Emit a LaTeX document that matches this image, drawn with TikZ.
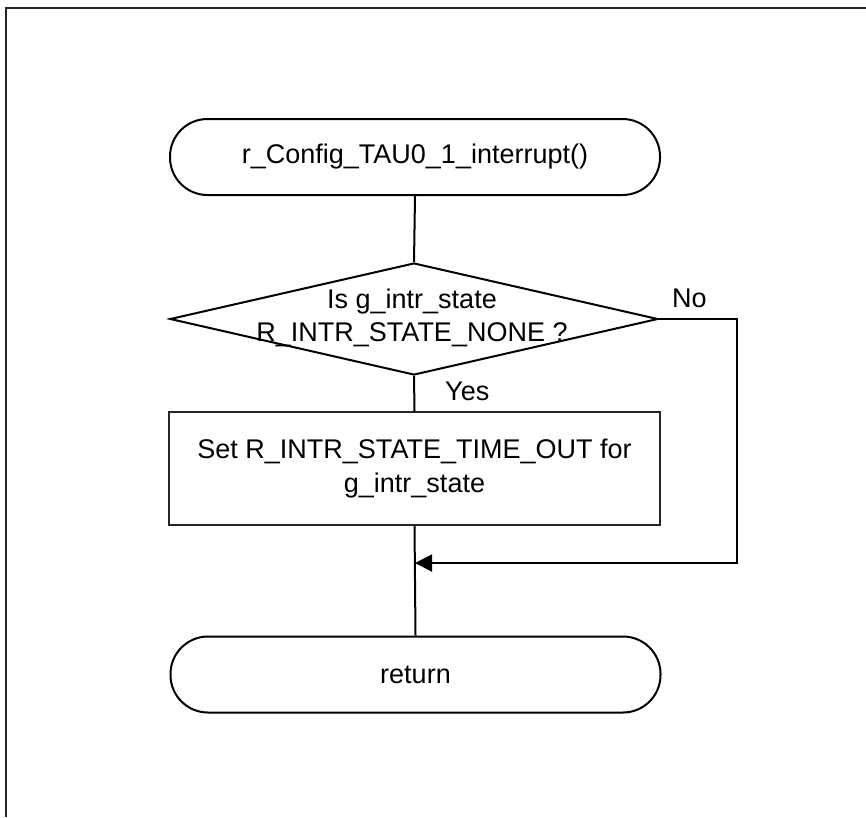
\documentclass[tikz,border=0pt]{standalone}
\usepackage{fontspec}
\setmainfont{Liberation Sans}
\usetikzlibrary{shapes.geometric,arrows.meta}
\begin{document}
\begin{tikzpicture}[x=1pt,y=-1pt,
  every node/.style={font=\fontsize{27}{33.5}\selectfont},
  terminal/.style={draw,line width=2pt,rectangle,rounded corners=37.5pt,minimum width=490pt,minimum height=76pt,inner sep=0pt},
  decision/.style={draw,line width=2pt,diamond,minimum width=488pt,minimum height=112pt,inner sep=0pt},
  process/.style={draw=black!85,line width=1.3pt,rectangle,minimum width=491pt,minimum height=113pt,inner sep=0pt,align=center},
  flow/.style={line width=2pt},
  flowarrow/.style={line width=2pt,-{Triangle[length=17pt,width=17pt]}},
  lbl/.style={inner sep=0pt,anchor=base west}]
\useasboundingbox (0,0) rectangle (866,817);
% frame (cropped)
\draw[line width=1.5pt,black!85] (6,817) -- (6,8) -- (866,8);
% nodes
\node[terminal] (start) at (415,157) {r\_Config\_TAU0\_1\_interrupt()};
\node[decision] (dec) at (414,319) {};
\node[align=center,inner sep=0pt] (dectext) at (412,318) {Is g\_intr\_state\\R\_INTR\_STATE\_NONE ?};
\node[process] (proc) at (414.5,468.5) {Set R\_INTR\_STATE\_TIME\_OUT for\\g\_intr\_state};
\node[terminal] (ret) at (415.5,674.5) {return};
\node[lbl] (no) at (672,307) {No};
\node[lbl] (yes) at (445,400) {Yes};
% connectors
\coordinate (join) at (415,563);
\coordinate (noR) at (737,563);
\draw[flow] (start.south) -- (dec.north);
\draw[flow] (dec.south) -- (proc.north);
\draw[flow] (proc.south) -- (ret.north);
\draw[flowarrow] (dec.east) -| (noR) -- (join);
\end{tikzpicture}
\end{document}
